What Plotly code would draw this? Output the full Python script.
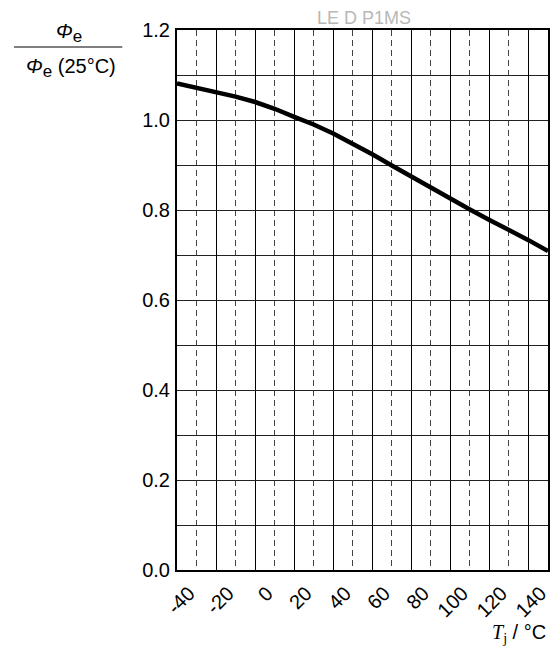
import plotly.graph_objects as go

# Data
temps = [-40, -30, -20, -10, 0, 10, 20, 30, 40, 50, 60, 70, 80, 90, 100, 110, 120, 130, 140, 150]
rel_flux = [1.081, 1.072, 1.062, 1.052, 1.040, 1.025, 1.007, 0.990, 0.970, 0.948,
            0.924, 0.899, 0.874, 0.849, 0.825, 0.801, 0.778, 0.756, 0.733, 0.709]
x_ticks = [-40, -20, 0, 20, 40, 60, 80, 100, 120, 140]
y_ticks = [0.0, 0.2, 0.4, 0.6, 0.8, 1.0, 1.2]

# page body has an 8px margin; work in window coordinates
OFF = 8
W, H = 560 - OFF, 657 - OFF
ML, MR, MT, MB = 177 - OFF, 10, 30 - OFF, 87
PW, PH = W - ML - MR, H - MT - MB

def px(x):  # window x -> paper
    return (x - OFF - ML) / PW

def py(y):  # window y -> paper
    return (H - MB - (y - OFF)) / PH

FONT = "Liberation Sans, Arial, Helvetica, sans-serif"

fig = go.Figure()
fig.add_trace(go.Scatter(x=temps, y=rel_flux, mode="lines",
                         line=dict(color="black", width=4.5),
                         showlegend=False, hoverinfo="skip"))

fig.update_layout(
    width=W, height=H,
    margin=dict(l=ML, r=MR, t=MT, b=MB),
    paper_bgcolor="white", plot_bgcolor="white",
    font=dict(family=FONT, size=20, color="black"),
    xaxis=dict(range=[-40, 150], tickvals=x_ticks, ticktext=[str(v) for v in x_ticks],
               tickangle=-45, ticklabelshift=12, ticklabelstandoff=2,
               showgrid=True, gridcolor="black", gridwidth=1,
               minor=dict(tick0=-40, dtick=10, showgrid=True, gridcolor="#444",
                          griddash="6px,4px", gridwidth=1),
               showline=True, linecolor="black", linewidth=1.5, mirror=True,
               zeroline=False, ticks="", fixedrange=True,
               tickfont=dict(size=20)),
    yaxis=dict(range=[0, 1.2], tickvals=y_ticks,
               ticktext=[f"{v:.1f}" for v in y_ticks],
               showgrid=True, gridcolor="#222", gridwidth=1,
               minor=dict(tick0=0, dtick=0.1, showgrid=True, gridcolor="#222", gridwidth=1),
               showline=True, linecolor="black", linewidth=2, mirror=True,
               zeroline=False, ticks="", ticklabelstandoff=1, fixedrange=True,
               tickfont=dict(size=20)),
)

PHI = "<i>Φ</i><sub><span style='font-size:17px'>e</span></sub>"
ann = [
    dict(text="LE D P1MS", x=px(365), y=py(18), font=dict(size=18, color="#b8b8b8")),
    dict(text=PHI, x=px(68), y=py(33), font=dict(size=20)),
    dict(text=PHI + " (25°C)", x=px(70), y=py(68), font=dict(size=20)),
    dict(text="<span style='font-family:Liberation Serif,Times New Roman,serif'><i>T</i><sub>j</sub></span> / °C",
         x=px(550), y=py(633), xanchor="right", font=dict(size=20)),
]
for a in ann:
    a.setdefault("xanchor", "center")
    fig.add_annotation(xref="paper", yref="paper", showarrow=False, yanchor="middle", **a)

fig.add_shape(type="line", xref="paper", yref="paper",
              x0=px(13), x1=px(122), y0=py(47), y1=py(47),
              line=dict(color="black", width=1.2))

fig.write_html("out.html")
